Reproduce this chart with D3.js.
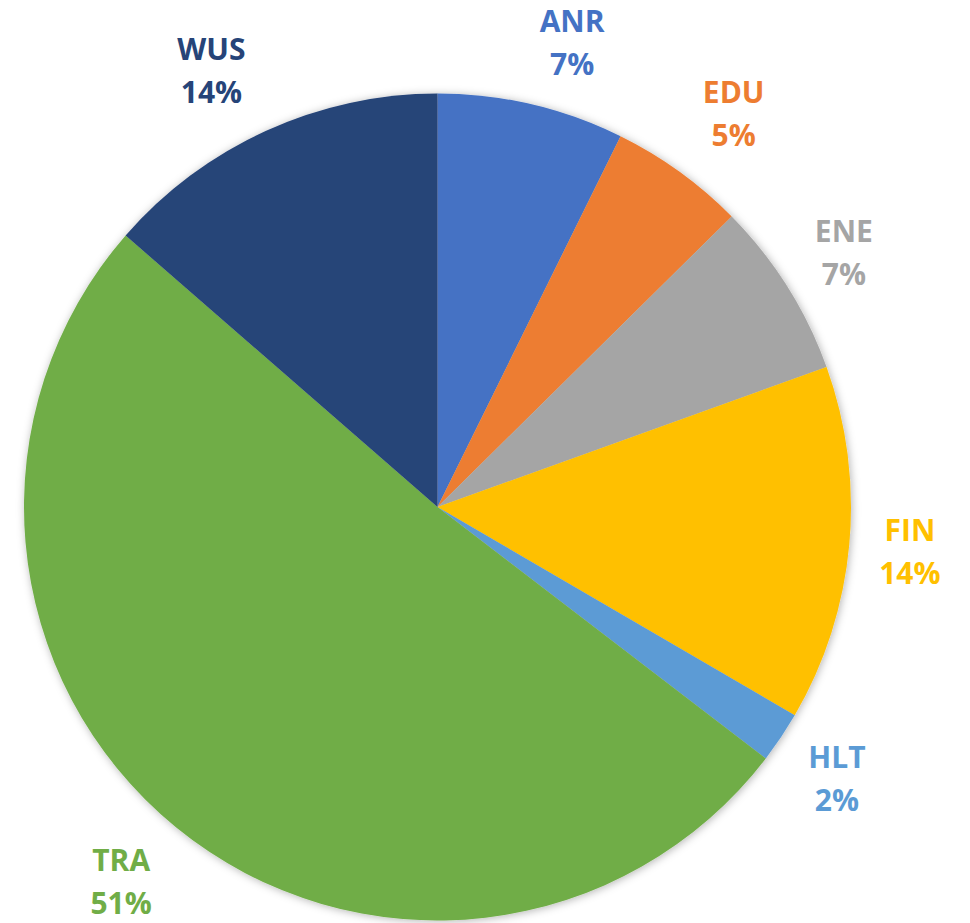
<!DOCTYPE html>
<html>
<head>
<meta charset="utf-8">
<script src="https://cdn.jsdelivr.net/npm/d3@7"></script>
<style>
  html, body { margin: 0; padding: 0; background: #fff; }
  svg { display: block; }
  text { font-family: "Open Sans", "Liberation Sans", sans-serif; font-weight: 700; }
</style>
</head>
<body>
<svg id="chart" width="970" height="923"></svg>
<script>
const categories = ["ANR", "EDU", "ENE", "FIN", "HLT", "TRA", "WUS"];
const shares = [7.3, 5.3, 6.9, 13.9, 2.0, 51.0, 13.6];
const percentLabels = ["7%", "5%", "7%", "14%", "2%", "51%", "14%"];
const colors = ["#4472C4", "#ED7D31", "#A5A5A5", "#FFC000", "#5B9BD5", "#70AD47", "#264478"];

const W = 970, H = 923;
const cx = 437.5, cy = 507, R = 413.5;
const svg = d3.select("#chart");

const defs = svg.append("defs");
const f = defs.append("filter").attr("id", "shadow")
  .attr("x", "-10%").attr("y", "-10%").attr("width", "120%").attr("height", "120%");
f.append("feDropShadow").attr("dx", 1).attr("dy", 1).attr("stdDeviation", 4)
  .attr("flood-color", "#000").attr("flood-opacity", 0.3);

const data = categories.map((c, i) => ({ cat: c, value: shares[i], label: percentLabels[i], color: colors[i] }));

const pie = d3.pie().value(d => d.value).sort(null);
const arcs = pie(data);
const arc = d3.arc().innerRadius(0).outerRadius(R);

const g = svg.append("g").attr("transform", `translate(${cx},${cy})`);
const slices = g.append("g").attr("filter", "url(#shadow)");
slices.selectAll("path").data(arcs).join("path")
  .attr("d", arc)
  .attr("fill", d => d.data.color);

// Data labels placed "outside end": anchored on the mid-angle ray just
// beyond the rim, with the label box pushed away from the pie.
const r0 = R + 16;
const labels = g.append("g").selectAll("text").data(arcs).join("text")
  .attr("text-anchor", "middle")
  .attr("font-size", 30)
  .attr("fill", d => d.data.color);
labels.append("tspan").attr("x", 0).attr("dy", -21.5).text(d => d.data.cat);
labels.append("tspan").attr("x", 0).attr("dy", 43).text(d => d.data.label);

labels.attr("transform", function(d) {
  const a = (d.startAngle + d.endAngle) / 2;
  const s = Math.sin(a), c = Math.cos(a);
  const w = Math.max(...Array.from(this.querySelectorAll("tspan")).map(t => t.getComputedTextLength()));
  const gap = 14 * Math.min(1, Math.pow(Math.abs(s) / 0.4, 2));
  const x = r0 * s + Math.sign(s) * (w / 2 + gap);
  const oy = c >= 0 ? -35 * Math.min(1, 1.5 * c * c) : Math.min(11 - 58 * c, 57);
  let y = -r0 * c + oy;
  y = Math.max(-cy + 50, Math.min(H - cy - 31, y));
  return `translate(${x},${y})`;
});
</script>
</body>
</html>
